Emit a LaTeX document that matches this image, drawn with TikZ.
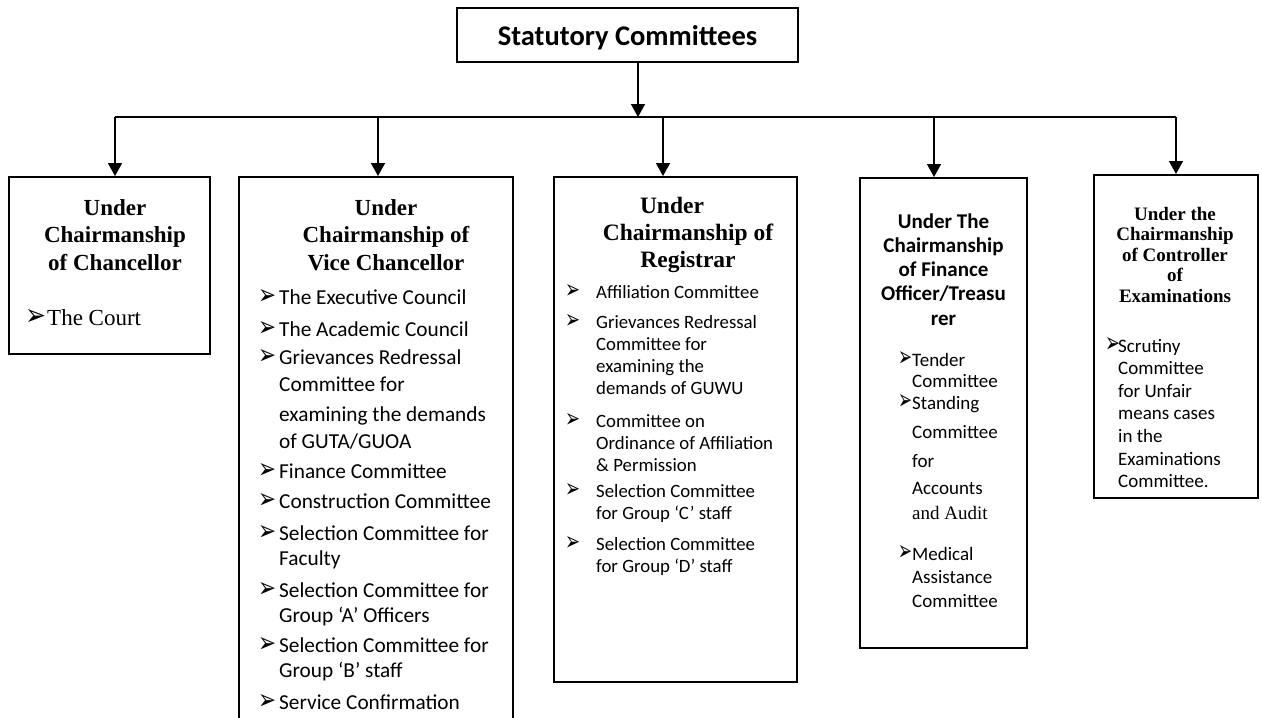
\documentclass[tikz,border=0pt]{standalone}
\usepackage{fontspec}
\setmainfont{Liberation Serif}
\newfontfamily\carl{Carlito}
\newfontfamily\arrfont{DejaVu Sans}
\usetikzlibrary{arrows.meta}

\def\arrwd{18pt}
\def\arrht{15pt}
\def\itmgap{21pt}
\newcommand{\bularrow}{\resizebox{\arrwd}{\arrht}{\arrfont ➢}}
\newcommand{\citem}[1]{\begin{tabular}[t]{@{}l@{}l@{}}\makebox[\itmgap][l]{\bularrow} & \begin{tabular}[t]{@{}l@{}}#1\end{tabular}\end{tabular}}
\newcommand{\clines}[1]{\begin{tabular}[t]{@{}c@{}}#1\end{tabular}}

\tikzset{
	box/.style={draw, line width=2pt, inner sep=0pt},
	conn/.style={line width=1.5pt, -{Triangle[length=13pt,width=14pt]}},
	bus/.style={line width=1.3pt},
	head/.style={inner sep=0pt, anchor=base},
	lst/.style={inner sep=0pt, anchor=base west},
}

\begin{document}
\begin{tikzpicture}[x=1pt, y=-1pt]
		
		\useasboundingbox (0,0) rectangle (1262,718);
		\clip (0,0) rectangle (1262,718);
		
		% Boxes
		
		\node[box, minimum width=341, minimum height=54]
		(top) at (627.5,35) {};
		\node[box, minimum width=201, minimum height=177]
		(b1) at (109.5,265.5) {};
		\node[box, minimum width=274, minimum height=563]
		(b2) at (376,458.5) {};
		\node[box, minimum width=243, minimum height=505]
		(b3) at (675.5,429.5) {};
		\node[box, minimum width=167, minimum height=470]
		(b4) at (943.5,413) {};
		\node[box, minimum width=164, minimum height=323]
		(b5) at (1176,336.5) {};
		
		% Headings
		
		\node[head, font=\carl\bfseries\fontsize{28.5}{30}\selectfont]
		(title) at (627.5,45) {Statutory Committees};
		
		\node[head, font=\bfseries\fontsize{23}{27.5}\selectfont]
		(h1) at (115,215) {\clines{Under\\Chairmanship\\of Chancellor}};
		\node[head, font=\bfseries\fontsize{23}{27.5}\selectfont]
		(h2) at (386,215) {\clines{Under\\Chairmanship of\\Vice Chancellor}};
		\node[head, font=\bfseries\fontsize{23.5}{27}\selectfont]
		(h3) at (688,213) {\clines{Under\hspace*{32pt}\\Chairmanship of\\Registrar}};
		\node[head, font=\carl\bfseries\fontsize{21}{24.3}\selectfont]
		(h4) at (943.5,228) {\clines{Under The\\Chairmanship\\of Finance\\Officer/Treasu\\rer}};
		\node[head, font=\bfseries\fontsize{19}{20.5}\selectfont]
		(h5) at (1175,220) {\clines{Under the\\Chairmanship\\of Controller\\of\\Examinations}};
		
		% Chancellor
		
		\node[lst, font=\fontsize{23}{27}\selectfont\def\arrwd{21pt}\def\arrht{16pt}\def\itmgap{22pt}]
		(c1) at (25,325) {\citem{The Court}};
		
		% Vice Chancellor
		
		\tikzset{vc/.style={lst, font=\carl\fontsize{21.3}{27}\selectfont}}
		\node[vc] (v1) at (258,304) {\citem{The Executive Council}};
		\node[vc] (v2) at (258,336) {\citem{The Academic Council}};
		\node[vc] (v3) at (258,364) {\citem{Grievances Redressal\\Committee for\\[3pt]examining the demands\\of GUTA/GUOA}};
		\node[vc] (v4) at (258,478) {\citem{Finance Committee}};
		\node[vc] (v5) at (258,508) {\citem{Construction Committee}};
		\node[vc] (v6) at (258,540) {\citem{Selection Committee for\\[-2pt]Faculty}};
		\node[vc] (v7) at (258,597) {\citem{Selection Committee for\\[-2pt]Group ‘A’ Officers}};
		\node[vc] (v8) at (258,652) {\citem{Selection Committee for\\[-2pt]Group ‘B’ staff}};
		\node[vc] (v9) at (258,709) {\citem{Service Confirmation}};
		
		% Registrar
		
		\tikzset{rg/.style={lst, font=\carl\fontsize{18.8}{22}\selectfont\def\arrwd{15pt}\def\arrht{14pt}\def\itmgap{31pt}}}
		\node[rg] (r1) at (565,298) {\citem{Affiliation Committee}};
		\node[rg] (r2) at (565,328) {\citem{Grievances Redressal\\Committee for\\examining the\\demands of GUWU}};
		\node[rg] (r3) at (565,427) {\citem{Committee on\\Ordinance of Affiliation\\\& Permission}};
		\node[rg] (r4) at (565,497) {\citem{Selection Committee\\for Group ‘C’ staff}};
		\node[rg] (r5) at (565,550) {\citem{Selection Committee\\for Group ‘D’ staff}};
		
		% Finance Officer
		
		\tikzset{fo/.style={lst, font=\carl\fontsize{19}{21}\selectfont\def\arrwd{14pt}\def\arrht{15pt}\def\itmgap{14pt}}}
		\node[fo] (f1) at (898,366) {\citem{Tender\\Committee}};
		\node[fo] (f2) at (898,409) {\citem{Standing\\[8pt]Committee\\[8pt]for\\[6pt]Accounts\\[4pt]{\rmfamily and Audit}}};
		\node[fo] (f3) at (898,560) {\citem{Medical\\[2.5pt]Assistance\\[2.5pt]Committee}};
		
		% Controller of Examinations
		
		\node[lst, font=\carl\fontsize{19}{22.6}\selectfont\def\arrwd{15pt}\def\arrht{15pt}\def\itmgap{13pt}]
		(e1) at (1105,352) {\citem{Scrutiny\\Committee\\for Unfair\\means cases\\in the\\Examinations\\Committee.}};
		
		% EDGE
		
		\coordinate (jn) at (638,117);
		\coordinate (d1) at (115,117);
		\coordinate (d2) at (378,117);
		\coordinate (d3) at (663,117);
		\coordinate (d4) at (934,117);
		\coordinate (d5) at (1176,117);
		
		\draw[conn] (top.south -| jn) -- (jn);
		\draw[bus] (d1) -- (d5);
		\draw[conn] (d1) -- (d1 |- b1.north);
		\draw[conn] (d2) -- (d2 |- b2.north);
		\draw[conn] (d3) -- (d3 |- b3.north);
		\draw[conn] (d4) -- (d4 |- b4.north);
		\draw[conn] (d5) -- (d5 |- b5.north);
		
	\end{tikzpicture}
\end{document}
